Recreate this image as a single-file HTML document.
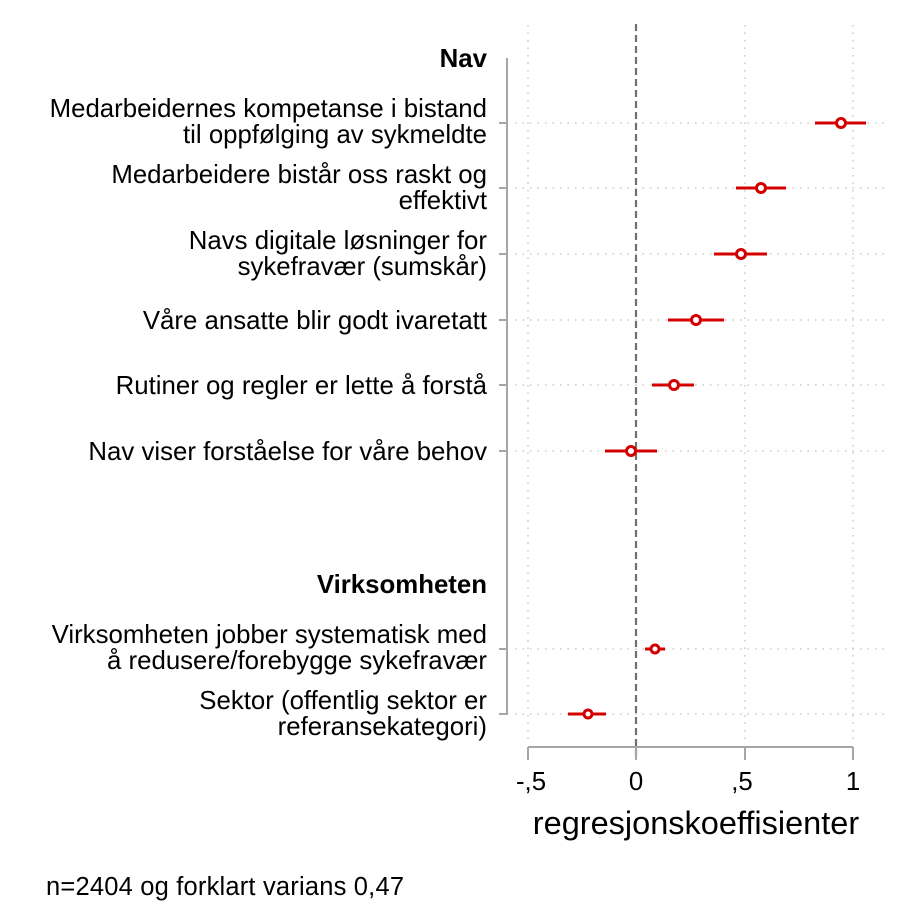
<!DOCTYPE html>
<html><head><meta charset="utf-8"><style>body{margin:0;background:#fff}</style></head><body>
<svg width="903" height="913" xmlns="http://www.w3.org/2000/svg" font-family="Liberation Sans, Arial, sans-serif">
<rect width="903" height="913" fill="#fff"/>
<g stroke="#c0c0c0" stroke-width="1.3" stroke-dasharray="1.5,6">
<line x1="528" y1="25" x2="528" y2="742"/>
<line x1="745" y1="25" x2="745" y2="742"/>
<line x1="853" y1="25" x2="853" y2="742"/>
<line x1="515" y1="123" x2="885" y2="123"/>
<line x1="515" y1="188" x2="885" y2="188"/>
<line x1="515" y1="254" x2="885" y2="254"/>
<line x1="515" y1="320" x2="885" y2="320"/>
<line x1="515" y1="385" x2="885" y2="385"/>
<line x1="515" y1="451" x2="885" y2="451"/>
<line x1="515" y1="649" x2="885" y2="649"/>
<line x1="515" y1="714" x2="885" y2="714"/>
</g>
<line x1="636" y1="24" x2="636" y2="760" stroke="#707070" stroke-width="2.2" stroke-dasharray="7,4"/>
<g stroke="#a6a6a6" stroke-width="2" fill="none">
<line x1="507" y1="58" x2="507" y2="715"/>
<line x1="499" y1="123" x2="507" y2="123"/><line x1="499" y1="188" x2="507" y2="188"/>
<line x1="499" y1="254" x2="507" y2="254"/><line x1="499" y1="320" x2="507" y2="320"/>
<line x1="499" y1="385" x2="507" y2="385"/><line x1="499" y1="451" x2="507" y2="451"/>
<line x1="499" y1="649" x2="507" y2="649"/><line x1="499" y1="714" x2="507" y2="714"/>
<line x1="528" y1="747" x2="853" y2="747"/>
<line x1="528" y1="747" x2="528" y2="760"/><line x1="636" y1="747" x2="636" y2="760"/>
<line x1="745" y1="747" x2="745" y2="760"/><line x1="853" y1="747" x2="853" y2="760"/>
</g>
<g stroke="#d40000" stroke-width="3" fill="none">
<line x1="815" y1="123" x2="866" y2="123"/><circle cx="841" cy="123" r="4.5" fill="#fff"/>
<line x1="736" y1="188" x2="786" y2="188"/><circle cx="761" cy="188" r="4.5" fill="#fff"/>
<line x1="714" y1="254" x2="767" y2="254"/><circle cx="741" cy="254" r="4.5" fill="#fff"/>
<line x1="668" y1="320" x2="724" y2="320"/><circle cx="696" cy="320" r="4.5" fill="#fff"/>
<line x1="652" y1="385" x2="694" y2="385"/><circle cx="674" cy="385" r="4.5" fill="#fff"/>
<line x1="605" y1="451" x2="657" y2="451"/><circle cx="631" cy="451" r="4.5" fill="#fff"/>
<line x1="645" y1="649" x2="665" y2="649"/><circle cx="655" cy="649" r="4" fill="#fff"/>
<line x1="568" y1="714" x2="606" y2="714"/><circle cx="588" cy="714" r="4" fill="#fff"/>
</g>
<g font-size="25.8" fill="#000" text-anchor="end">
<text x="487" y="67" font-weight="bold">Nav</text>
<text x="487" y="117">Medarbeidernes kompetanse i bistand</text>
<text x="487" y="143">til oppfølging av sykmeldte</text>
<text x="487" y="183">Medarbeidere bistår oss raskt og</text>
<text x="487" y="209">effektivt</text>
<text x="487" y="249">Navs digitale løsninger for</text>
<text x="487" y="275">sykefravær (sumskår)</text>
<text x="487" y="329">Våre ansatte blir godt ivaretatt</text>
<text x="487" y="394">Rutiner og regler er lette å forstå</text>
<text x="487" y="460">Nav viser forståelse for våre behov</text>
<text x="487" y="593" font-weight="bold">Virksomheten</text>
<text x="487" y="643">Virksomheten jobber systematisk med</text>
<text x="487" y="669">å redusere/forebygge sykefravær</text>
<text x="487" y="709">Sektor (offentlig sektor er</text>
<text x="487" y="735">referansekategori)</text>
</g>
<g font-size="25.8" fill="#000" text-anchor="middle">
<text x="531" y="790">-,5</text><text x="636" y="790">0</text>
<text x="742" y="790">,5</text><text x="853" y="790">1</text>
<text x="696" y="834" font-size="32.5">regresjonskoeffisienter</text>
</g>
<text x="46" y="895" font-size="25.5" textLength="358">n=2404 og forklart varians 0,47</text>
</svg>
</body></html>
